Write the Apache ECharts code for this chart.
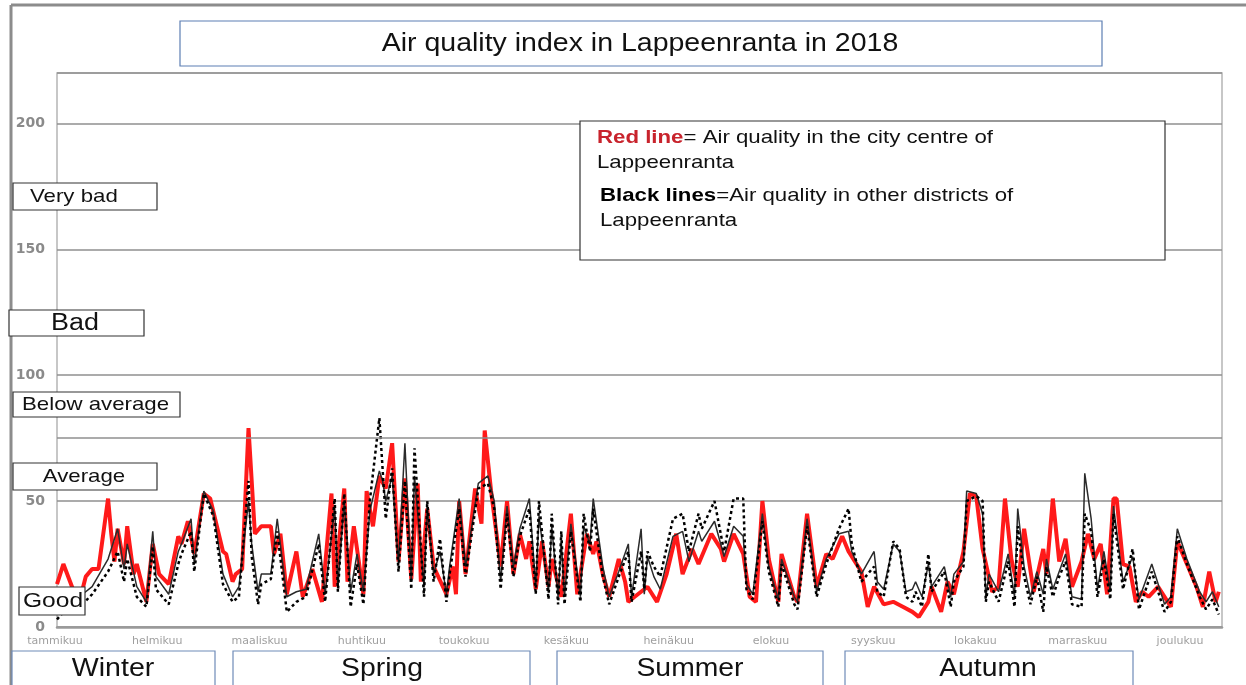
<!DOCTYPE html>
<html>
<head>
<meta charset="utf-8">
<title>Air quality index in Lappeenranta in 2018</title>
<script src="https://cdn.jsdelivr.net/npm/echarts@6/dist/echarts.min.js"></script>
<style>
  html, body { margin: 0; padding: 0; background: #fff; }
  #aqi { width: 1246px; height: 685px; }
</style>
</head>
<body>
<div id="aqi"></div>
<script>
// month names shown under the x axis
const months = ["tammikuu", "helmikuu", "maaliskuu", "huhtikuu", "toukokuu", "kesäkuu",
  "heinäkuu", "elokuu", "syyskuu", "lokakuu", "marraskuu", "joulukuu"];
const seasons = ["Winter", "Spring", "Summer", "Autumn"];
const levels = ["Very bad", "Bad", "Below average", "Average", "Good"];
const yTicks = [0, 50, 100, 150, 200];
const extraGrid = [75];

// [day of year, index value]
const cityCentre = [[0,17],[2,25],[5,15],[7,10],[9,20],[11,23],[13,23],[16,51],[17,37],[18,26],[19,39],[21,25],[22,40],[24,21],[25,25],[28,10],[30,33],[32,21],[35,17],[38,36],[39,33],[41,42],[43,29],[46,53],[48,51],[52,30],[53,29],[55,18],[56,21],[58,23],[60,79],[62,37],[64,40],[67,40],[68,29],[70,37],[72,13],[75,30],[77,12],[80,23],[83,10],[86,53],[87,16],[90,55],[91,18],[93,40],[96,13],[97,54],[99,40],[101,60],[103,55],[105,73],[107,26],[109,59],[111,19],[113,57],[114,18],[116,47],[118,24],[122,13],[124,24],[125,13],[126,50],[128,21],[131,55],[133,41],[134,78],[136,54],[139,24],[141,50],[143,21],[145,37],[147,27],[148,34],[150,15],[152,34],[154,16],[155,27],[158,12],[161,45],[163,13],[166,37],[168,29],[169,34],[171,21],[173,12],[176,27],[178,18],[179,10],[181,12],[183,14],[185,16],[188,10],[191,21],[194,37],[196,21],[199,31],[201,25],[205,37],[208,31],[209,26],[212,37],[215,29],[217,12],[219,10],[221,50],[223,27],[226,10],[227,29],[231,12],[232,10],[235,45],[238,16],[241,29],[243,27],[246,36],[248,30],[252,22],[254,8],[256,16],[259,9],[262,10],[265,8],[268,6],[270,4],[273,10],[274,16],[277,6],[279,18],[281,13],[284,30],[286,53],[288,52],[290,31],[293,14],[295,16],[297,51],[299,27],[301,16],[303,39],[306,14],[309,31],[310,21],[312,51],[314,26],[316,35],[318,16],[321,26],[323,37],[325,27],[327,33],[329,13],[331,51],[332,51],[334,25],[336,24],[338,10],[340,14],[342,12],[345,16],[349,8],[351,34],[354,25],[357,16],[359,8],[361,22],[363,10],[364,14]];

const districtA = [[0,5],[2,12],[5,14],[8,13],[11,16],[16,27],[19,39],[21,23],[22,33],[25,16],[28,10],[30,38],[31,20],[35,13],[38,30],[39,33],[42,43],[43,25],[46,54],[49,46],[52,21],[55,12],[57,16],[60,50],[61,33],[63,14],[64,21],[67,21],[69,43],[72,12],[75,14],[78,15],[82,37],[84,13],[87,48],[88,16],[90,50],[92,14],[94,29],[96,14],[98,46],[101,62],[102,58],[103,50],[105,60],[107,25],[109,73],[111,18],[112,60],[115,16],[116,48],[118,21],[120,30],[122,13],[123,24],[126,51],[128,24],[132,57],[135,60],[137,50],[139,18],[141,48],[143,24],[145,39],[148,51],[150,16],[151,44],[154,14],[155,40],[157,12],[158,34],[159,12],[161,41],[164,12],[165,40],[167,33],[168,51],[171,24],[173,12],[176,22],[179,33],[180,12],[183,39],[184,13],[185,28],[187,20],[189,15],[193,36],[196,38],[198,26],[201,38],[202,34],[206,42],[209,28],[212,40],[215,36],[216,17],[218,13],[221,45],[223,24],[226,11],[227,27],[231,12],[232,10],[235,43],[238,14],[241,27],[245,37],[248,38],[249,30],[252,21],[256,30],[257,18],[259,15],[262,33],[264,30],[266,14],[268,15],[269,18],[271,12],[273,25],[274,16],[278,24],[280,12],[281,21],[284,26],[285,54],[288,53],[290,45],[291,12],[292,21],[295,14],[298,29],[300,12],[301,47],[303,24],[305,12],[307,22],[309,13],[310,27],[312,15],[314,22],[316,29],[318,12],[321,11],[322,61],[324,43],[326,15],[328,30],[330,14],[331,48],[334,18],[337,28],[339,11],[343,25],[347,9],[349,12],[351,39],[354,27],[358,14],[360,10],[362,14],[364,8]];

const districtB = [[0,3],[2,6],[5,8],[8,9],[11,13],[16,22],[19,30],[21,18],[22,27],[25,12],[28,8],[30,32],[31,15],[35,9],[38,25],[39,29],[42,38],[43,22],[46,53],[49,44],[52,17],[55,10],[57,12],[60,58],[61,28],[63,9],[64,17],[67,19],[69,38],[72,6],[75,10],[78,12],[82,33],[84,10],[87,51],[88,14],[90,53],[92,8],[94,25],[96,9],[98,50],[101,83],[102,63],[103,43],[105,63],[107,22],[109,58],[111,15],[112,71],[115,12],[116,50],[118,18],[120,35],[122,10],[123,21],[126,47],[128,20],[132,55],[135,57],[137,47],[139,15],[141,45],[143,20],[145,36],[148,47],[150,13],[151,50],[154,11],[155,45],[157,9],[158,38],[159,9],[161,38],[164,10],[165,45],[167,30],[168,47],[171,20],[173,9],[176,20],[179,30],[180,10],[183,30],[184,15],[185,30],[187,24],[189,20],[193,43],[196,45],[198,30],[201,45],[202,39],[206,50],[209,30],[212,51],[215,51],[216,15],[218,11],[221,42],[223,22],[226,8],[227,25],[231,9],[232,7],[235,40],[238,12],[241,25],[245,39],[248,47],[249,33],[252,18],[256,24],[257,14],[259,12],[262,34],[264,31],[266,12],[268,10],[269,14],[271,8],[273,29],[274,14],[278,22],[280,8],[281,18],[284,24],[285,50],[288,52],[290,50],[291,10],[292,18],[295,10],[298,26],[300,8],[301,40],[303,20],[305,9],[307,20],[309,6],[310,24],[312,12],[314,20],[316,26],[318,9],[321,8],[322,45],[324,38],[326,12],[328,27],[330,11],[331,45],[334,15],[337,31],[339,7],[343,22],[347,6],[349,10],[351,36],[354,25],[358,12],[360,7],[362,11],[364,5]];

var FONT = "'Liberation Sans', Arial, sans-serif";
// the scanned figure is a little stretched sideways
var STRETCH = 1.17;

function box(x, y, w, h, stroke) {
  return {
    type: "rect", z: 100,
    shape: { x: x, y: y, width: w, height: h },
    style: { fill: "#fff", stroke: stroke || "#333", lineWidth: 1.2 }
  };
}
function label(text, x, y, size, align, sx) {
  return {
    type: "text", z: 101, x: x, y: y, scaleX: sx || STRETCH,
    style: {
      text: text, x: 0, y: 0, fill: "#111",
      font: size + "px " + FONT,
      textAlign: align || "center", textVerticalAlign: "middle"
    }
  };
}
function richLabel(text, x, y, key, color) {
  var rich = {};
  rich[key] = { fill: color, fontWeight: "bold", fontSize: 19, fontFamily: FONT };
  return {
    type: "text", z: 101, x: x, y: y, scaleX: STRETCH,
    style: {
      x: 0, y: 0, textVerticalAlign: "middle", text: text,
      font: "19px " + FONT, fill: "#111", rich: rich
    }
  };
}

var graphics = [
  // scanned page frame
  { type: "line", z: 100, shape: { x1: 11, y1: 5, x2: 1246, y2: 5 }, style: { stroke: "#8c8c8c", lineWidth: 3 } },
  { type: "line", z: 100, shape: { x1: 11, y1: 5, x2: 11, y2: 685 }, style: { stroke: "#8c8c8c", lineWidth: 3 } },
  // title
  box(180, 21, 922, 45, "#5d7fb3"),
  label("Air quality index in Lappeenranta in 2018", 640, 44, 25, "center", 1.14),
  // legend note
  box(580, 121, 585, 139, "#333"),
  richLabel("{r|Red line}= Air quality in the city centre of", 597, 138, "r", "#c8232c"),
  label("Lappeenranta", 597, 163, 19, "left"),
  richLabel("{b|Black lines}=Air quality in other districts of", 600, 196, "b", "#000"),
  label("Lappeenranta", 600, 221, 19, "left"),
  // quality classes on the left
  box(13, 183, 144, 27), label(levels[0], 30, 197, 19, "left"),
  box(9, 310, 135, 26), label(levels[1], 75, 324, 23),
  box(13, 392, 167, 25), label(levels[2], 22, 405, 19, "left"),
  box(13, 463, 144, 27), label(levels[3], 84, 477, 19),
  box(19, 587, 66, 28), label(levels[4], 53, 601, 21),
  // seasons under the axis
  box(12, 651, 203, 40, "#6f8bb8"), label(seasons[0], 113, 669, 26, "center", 1.1),
  box(233, 651, 297, 40, "#6f8bb8"), label(seasons[1], 382, 669, 26, "center", 1.09),
  box(557, 651, 266, 40, "#6f8bb8"), label(seasons[2], 690, 669, 26, "center", 1.09),
  box(845, 651, 288, 40, "#6f8bb8"), label(seasons[3], 988, 669, 26, "center", 1.09)
];

var myChart = echarts.init(document.getElementById("aqi"));
myChart.setOption({
  animation: false,
  backgroundColor: "#fff",
  textStyle: { fontFamily: FONT },
  grid: [
    { left: 57, right: 24, top: 73, bottom: 58, show: true, borderColor: "#b5b5b5", borderWidth: 1.5 },
    { left: 55, right: 66, top: 73, bottom: 58, show: false }
  ],
  xAxis: [
    {
      type: "value", min: 0, max: 365, gridIndex: 0,
      axisLine: { show: true, onZero: false, lineStyle: { color: "#9a9a9a", width: 2.5 } },
      axisTick: { show: false }, axisLabel: { show: false }, splitLine: { show: false }
    },
    {
      type: "category", gridIndex: 1, data: months, boundaryGap: false,
      axisLine: { show: false }, axisTick: { show: false }, splitLine: { show: false },
      axisLabel: { color: "#9f9f9f", fontSize: 11, fontFamily: "'DejaVu Sans', sans-serif", margin: 9, interval: 0 }
    }
  ],
  yAxis: [
    {
      type: "value", min: 0, max: 220, interval: 50, gridIndex: 0,
      axisLine: { show: false }, axisTick: { show: false },
      axisLabel: {
        color: "#8a8a8a", fontSize: 14, fontWeight: "bold", margin: 12,
        fontFamily: "'DejaVu Sans', sans-serif", showMaxLabel: false,
        formatter: function (v) { return yTicks.indexOf(v) >= 0 ? String(v) : ""; }
      },
      splitLine: { show: true, lineStyle: { color: "#8f8f8f", width: 1.5 } }
    },
    { type: "value", gridIndex: 1, show: false }
  ],
  series: [
    {
      name: "Red line", type: "line", data: cityCentre, symbol: "none",
      lineStyle: { color: "#ff1a1a", width: 4 }, z: 2,
      markLine: {
        silent: true, symbol: "none", label: { show: false },
        lineStyle: { color: "#8f8f8f", width: 1.5, type: "solid" },
        data: extraGrid.map(function (v) { return { yAxis: v }; })
      }
    },
    {
      name: "Black line", type: "line", data: districtA, symbol: "none",
      lineStyle: { color: "#2b2b2b", width: 1.5 }, z: 3
    },
    {
      name: "Black dashed", type: "line", data: districtB, symbol: "none",
      lineStyle: { color: "#000", width: 2.5, type: [3, 3] }, z: 4
    }
  ],
  graphic: graphics
});
</script>
</body>
</html>
